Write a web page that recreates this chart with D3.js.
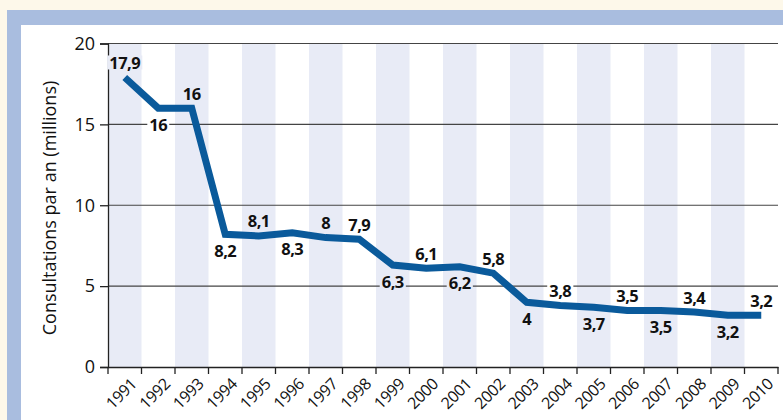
<!DOCTYPE html>
<html>
<head>
<meta charset="utf-8">
<script src="https://cdn.jsdelivr.net/npm/d3@7"></script>
<style>
  body { margin: 0; background: #fdf8ea; }
  svg { display: block; font-family: "Open Sans", sans-serif; }
</style>
</head>
<body>
<svg id="svg" width="783" height="420"></svg>
<script>
// données
const years = d3.range(1991, 2011).map(String);
const values = [17.9, 16, 16, 8.2, 8.1, 8.3, 8, 7.9, 6.3, 6.1, 6.2, 5.8, 4, 3.8, 3.7, 3.5, 3.5, 3.4, 3.2, 3.2];
const labelTexts = ["17,9", "16", "16", "8,2", "8,1", "8,3", "8", "7,9", "6,3", "6,1", "6,2", "5,8", "4", "3,8", "3,7", "3,5", "3,5", "3,4", "3,2", "3,2"];
// position des étiquettes : 1 = au-dessus, -1 = en dessous
const labelSide = [1, -1, 1, -1, 1, -1, 1, 1, -1, 1, -1, 1, -1, 1, -1, 1, -1, 1, -1, 1];
const yTicks = [0, 5, 10, 15, 20];
const yTitle = "Consultations par an (millions)";

const svg = d3.select('#svg');
const W = 783, H = 420;
const bandFill = '#e8ebf6';
const lineColor = '#0a5a9b';

// cadre
svg.append('rect').attr('width', W).attr('height', H).attr('fill', '#fdf8ea');
svg.append('rect').attr('x', 7).attr('y', 10).attr('width', W - 7).attr('height', H - 10).attr('fill', '#a9bddf');
svg.append('rect').attr('x', 21).attr('y', 25).attr('width', W - 21).attr('height', H - 25).attr('fill', '#fff');

const mLeft = 108, mRight = 778, mTop = 43.5, mBottom = 367;

const x = d3.scaleBand().domain(years).range([mLeft, mRight]).padding(0);
const y = d3.scaleLinear().domain([0, 20]).range([mBottom, mTop]);

// bandes grisées une année sur deux
svg.append('g').selectAll('rect')
  .data(years.filter((d, i) => i % 2 === 0))
  .join('rect')
  .attr('x', d => x(d))
  .attr('y', mTop)
  .attr('width', x.bandwidth())
  .attr('height', mBottom - mTop)
  .attr('fill', bandFill);

// grille horizontale
svg.append('g').selectAll('line')
  .data(yTicks.filter(d => d > 0))
  .join('line')
  .attr('x1', mLeft).attr('x2', mRight)
  .attr('y1', d => y(d)).attr('y2', d => y(d))
  .attr('stroke', '#444').attr('stroke-width', 1.2);

// axe Y
const yAxis = svg.append('g')
  .attr('transform', `translate(${mLeft},0)`)
  .call(d3.axisLeft(y).tickValues(yTicks).tickSize(8).tickPadding(5));
yAxis.select('.domain').attr('stroke', '#222').attr('stroke-width', 1.3);
yAxis.selectAll('.tick line').attr('stroke', '#222').attr('stroke-width', 1.3);
yAxis.selectAll('text').attr('font-size', 18).attr('fill', '#111')
  .attr('font-family', '"Open Sans", sans-serif');

// axe X
const xAxis = svg.append('g')
  .attr('transform', `translate(0,${mBottom})`)
  .call(d3.axisBottom(x).tickSize(0).tickPadding(0));
xAxis.select('.domain').attr('stroke', '#222').attr('stroke-width', 1.3);
xAxis.selectAll('.tick text')
  .attr('font-size', 16).attr('fill', '#111')
  .attr('font-family', '"Open Sans", sans-serif')
  .attr('text-anchor', 'end')
  .attr('dy', '0.35em')
  .attr('letter-spacing', -0.3)
  .attr('transform', 'translate(9,14) rotate(-45)');

// petits traits entre les années
svg.append('g').selectAll('line')
  .data(d3.range(years.length + 1))
  .join('line')
  .attr('x1', i => mLeft + i * x.step()).attr('x2', i => mLeft + i * x.step())
  .attr('y1', mBottom).attr('y2', mBottom + 7)
  .attr('stroke', '#222').attr('stroke-width', 1.3);

// titre de l'axe
svg.append('text')
  .attr('transform', 'translate(49,208) rotate(-90)')
  .attr('text-anchor', 'middle')
  .attr('dominant-baseline', 'central')
  .attr('font-size', 18)
  .attr('fill', '#111')
  .text(yTitle);

// courbe
const pts = years.map((d, i) => [x(d) + x.bandwidth() / 2, y(values[i])]);
svg.append('path')
  .attr('d', d3.line()(pts))
  .attr('fill', 'none')
  .attr('stroke', lineColor)
  .attr('stroke-width', 7)
  .attr('stroke-linejoin', 'miter');

// étiquettes de valeur
const lab = svg.append('g');
years.forEach((d, i) => {
  const cx = pts[i][0];
  const cy = pts[i][1] + (labelSide[i] > 0 ? -15 : 16);
  const bg = i % 2 === 0 ? bandFill : '#fff';
  const t = lab.append('text')
    .attr('x', cx).attr('y', cy)
    .attr('text-anchor', 'middle')
    .attr('dominant-baseline', 'central')
    .attr('font-size', 16.5)
    .attr('font-weight', 'bold')
    .attr('letter-spacing', -0.5)
    .attr('fill', '#111')
    .text(labelTexts[i]);
  const b = t.node().getBBox();
  lab.insert('rect', () => t.node())
    .attr('x', b.x - 2).attr('y', cy - 7)
    .attr('width', b.width + 4).attr('height', 14)
    .attr('fill', bg);
});
</script>
</body>
</html>
